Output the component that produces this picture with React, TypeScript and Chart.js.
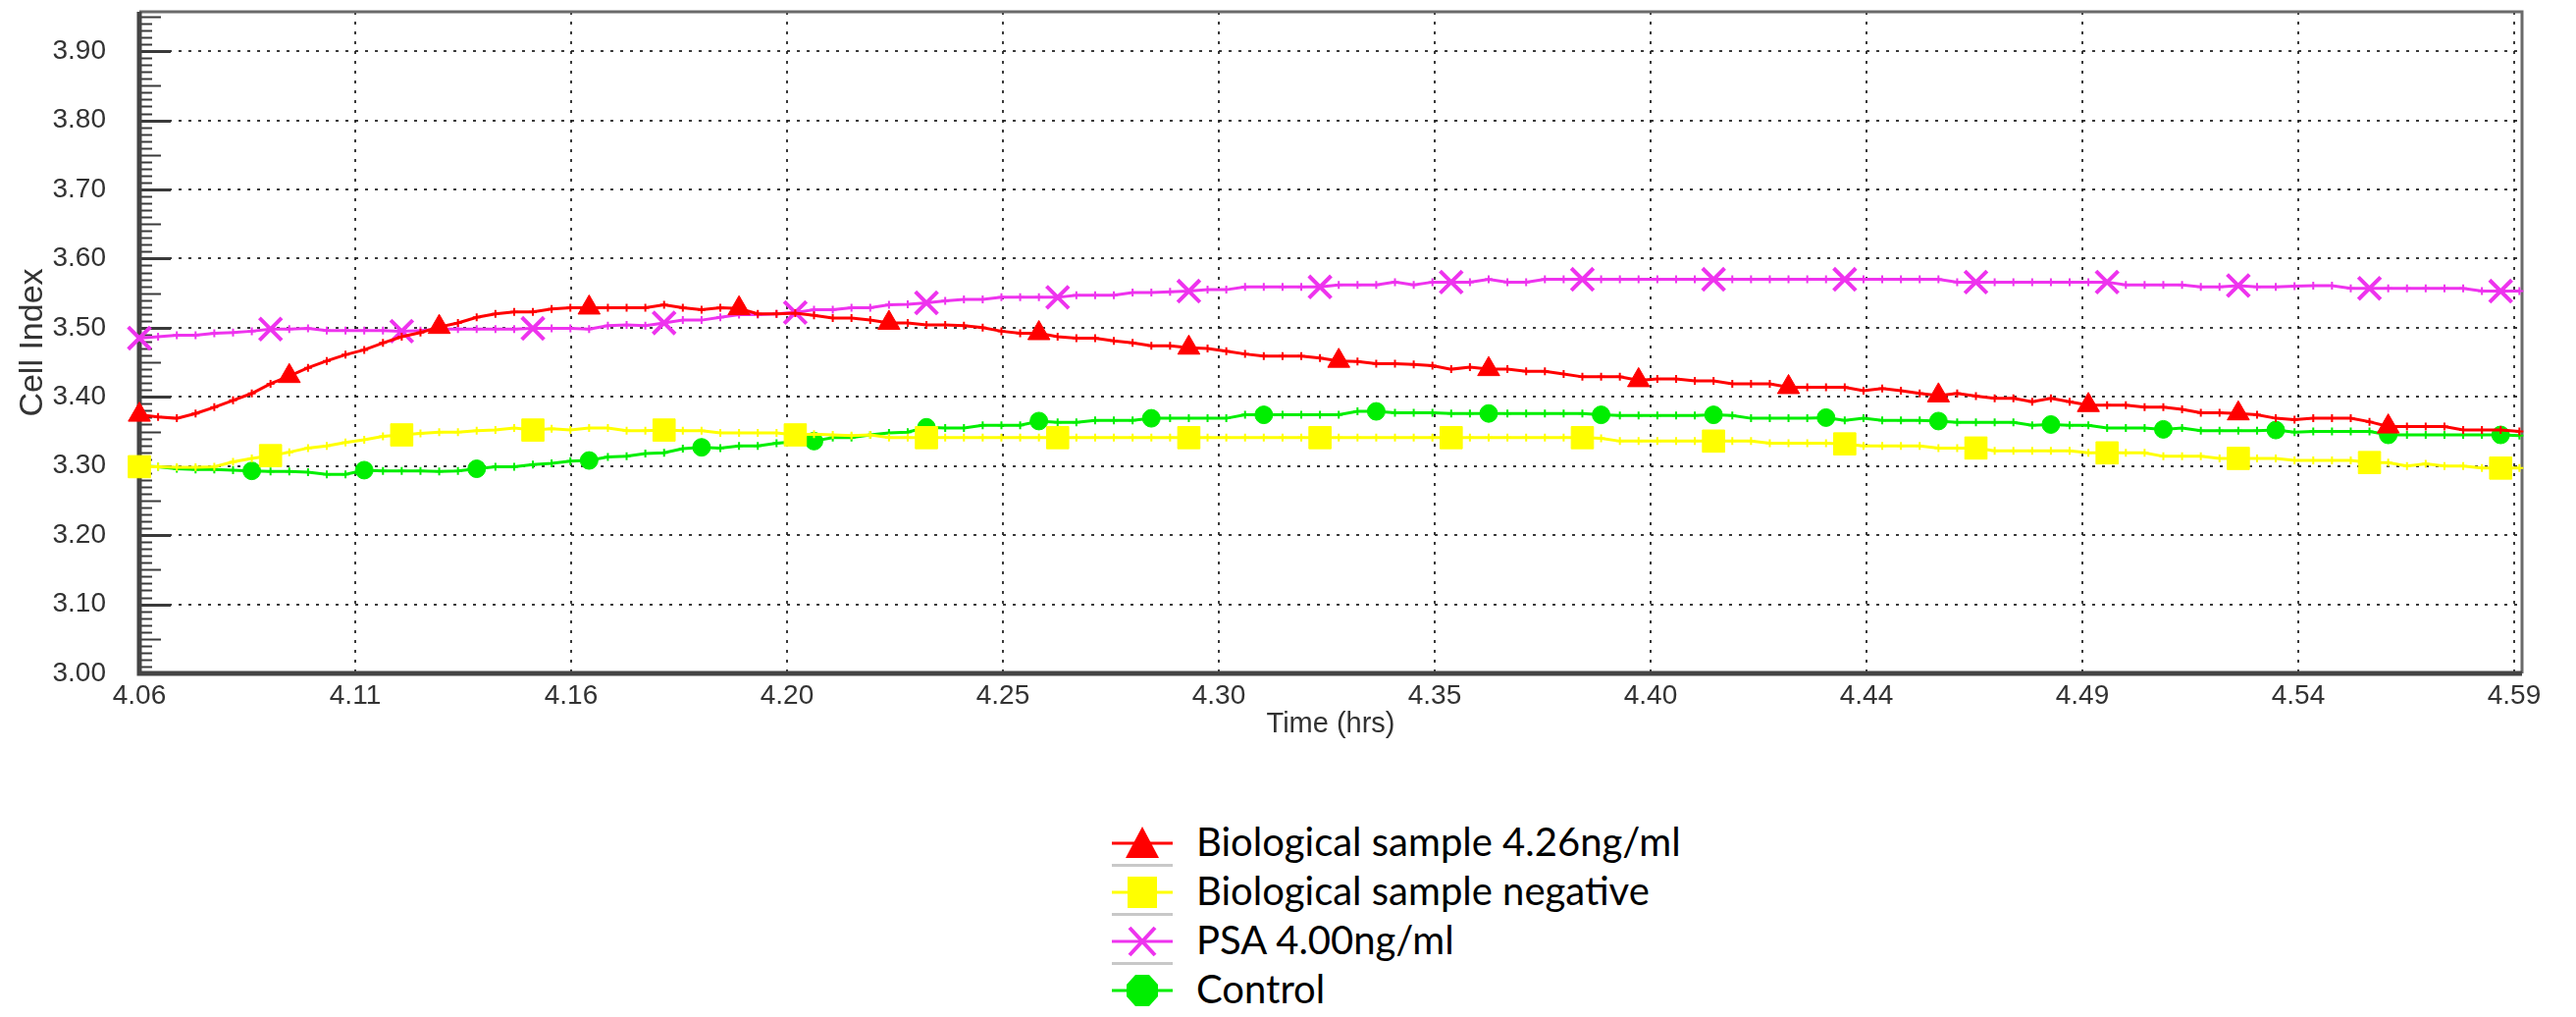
import React, { useEffect, useRef } from 'react';
import { Chart, registerables } from 'chart.js';

Chart.register(...registerables);

// ---- axis settings ----
const X_START = 4.0595; // hrs at the first sample (left edge of the plot)
const X_END = 4.5898; // hrs at the right edge of the plot
const SAMPLE_STEP = 0.004171; // hrs between two recorded samples
const X_TICK_STEP = 0.04805; // hrs between two labelled grid lines
const xTickLabels = ['4.06', '4.11', '4.16', '4.20', '4.25', '4.30', '4.35', '4.40', '4.44', '4.49', '4.54', '4.59'];
const yTickLabels = ['3.00', '3.10', '3.20', '3.30', '3.40', '3.50', '3.60', '3.70', '3.80', '3.90'];
const Y_MIN = 3.0;
const Y_MAX = 3.957;
const Y_MINOR_STEP = 0.01;

// ---- series (Cell Index per sample) ----
const bio426 = [
  3.374, 3.371, 3.369, 3.376, 3.385, 3.395, 3.405, 3.419, 3.430, 3.442,
  3.452, 3.461, 3.468, 3.478, 3.487, 3.493, 3.501, 3.507, 3.515, 3.520,
  3.523, 3.523, 3.527, 3.529, 3.529, 3.529, 3.529, 3.529, 3.533, 3.529,
  3.526, 3.529, 3.528, 3.520, 3.520, 3.521, 3.518, 3.514, 3.514, 3.511,
  3.507, 3.507, 3.504, 3.504, 3.503, 3.500, 3.495, 3.492, 3.492, 3.487,
  3.485, 3.485, 3.481, 3.478, 3.474, 3.474, 3.471, 3.470, 3.466, 3.462,
  3.459, 3.459, 3.459, 3.456, 3.452, 3.451, 3.448, 3.448, 3.447, 3.445,
  3.440, 3.443, 3.440, 3.440, 3.437, 3.437, 3.433, 3.429, 3.429, 3.429,
  3.424, 3.426, 3.426, 3.423, 3.423, 3.419, 3.419, 3.419, 3.414, 3.414,
  3.414, 3.414, 3.409, 3.412, 3.409, 3.405, 3.402, 3.405, 3.401, 3.398,
  3.398, 3.393, 3.398, 3.393, 3.388, 3.388, 3.388, 3.385, 3.385, 3.382,
  3.377, 3.377, 3.376, 3.374, 3.369, 3.367, 3.369, 3.369, 3.369, 3.364,
  3.357, 3.357, 3.357, 3.357, 3.352, 3.352, 3.352, 3.350,
];

const bioNegative = [
  3.299, 3.299, 3.298, 3.298, 3.299, 3.306, 3.311, 3.315, 3.320, 3.326,
  3.329, 3.334, 3.338, 3.343, 3.345, 3.347, 3.349, 3.349, 3.351, 3.352,
  3.355, 3.352, 3.354, 3.352, 3.355, 3.355, 3.351, 3.351, 3.352, 3.351,
  3.351, 3.348, 3.348, 3.348, 3.348, 3.345, 3.346, 3.345, 3.344, 3.345,
  3.341, 3.341, 3.341, 3.341, 3.341, 3.341, 3.341, 3.341, 3.341, 3.341,
  3.341, 3.341, 3.341, 3.341, 3.341, 3.341, 3.341, 3.341, 3.341, 3.341,
  3.341, 3.341, 3.341, 3.341, 3.341, 3.341, 3.341, 3.341, 3.341, 3.341,
  3.341, 3.341, 3.341, 3.341, 3.341, 3.341, 3.341, 3.341, 3.340, 3.336,
  3.336, 3.336, 3.336, 3.336, 3.336, 3.336, 3.336, 3.333, 3.333, 3.333,
  3.333, 3.332, 3.329, 3.329, 3.329, 3.329, 3.326, 3.326, 3.326, 3.322,
  3.322, 3.322, 3.322, 3.322, 3.319, 3.319, 3.319, 3.319, 3.314, 3.314,
  3.314, 3.311, 3.311, 3.311, 3.311, 3.308, 3.308, 3.308, 3.308, 3.305,
  3.305, 3.300, 3.303, 3.300, 3.300, 3.297, 3.297, 3.297,
];

const psa400 = [
  3.485, 3.487, 3.489, 3.489, 3.492, 3.493, 3.495, 3.498, 3.498, 3.499,
  3.496, 3.496, 3.496, 3.496, 3.495, 3.496, 3.498, 3.498, 3.498, 3.498,
  3.498, 3.499, 3.499, 3.499, 3.498, 3.503, 3.504, 3.503, 3.507, 3.511,
  3.511, 3.515, 3.519, 3.519, 3.520, 3.522, 3.526, 3.526, 3.529, 3.529,
  3.533, 3.534, 3.536, 3.539, 3.541, 3.541, 3.544, 3.544, 3.544, 3.544,
  3.547, 3.547, 3.547, 3.551, 3.551, 3.552, 3.553, 3.555, 3.555, 3.559,
  3.559, 3.559, 3.559, 3.559, 3.562, 3.562, 3.562, 3.566, 3.562, 3.566,
  3.566, 3.566, 3.570, 3.566, 3.566, 3.570, 3.570, 3.570, 3.570, 3.570,
  3.570, 3.570, 3.570, 3.570, 3.570, 3.570, 3.570, 3.570, 3.570, 3.570,
  3.570, 3.570, 3.570, 3.570, 3.570, 3.570, 3.570, 3.566, 3.566, 3.566,
  3.566, 3.566, 3.566, 3.566, 3.566, 3.566, 3.562, 3.562, 3.562, 3.562,
  3.559, 3.559, 3.561, 3.559, 3.559, 3.560, 3.561, 3.561, 3.557, 3.557,
  3.557, 3.557, 3.557, 3.557, 3.557, 3.553, 3.553, 3.553,
];

const control = [
  3.300, 3.299, 3.296, 3.295, 3.295, 3.294, 3.293, 3.292, 3.292, 3.291,
  3.288, 3.288, 3.294, 3.293, 3.293, 3.293, 3.292, 3.293, 3.296, 3.299,
  3.299, 3.302, 3.304, 3.307, 3.308, 3.313, 3.314, 3.318, 3.319, 3.325,
  3.327, 3.326, 3.329, 3.329, 3.333, 3.335, 3.336, 3.341, 3.341, 3.345,
  3.348, 3.349, 3.356, 3.355, 3.355, 3.359, 3.359, 3.359, 3.365, 3.363,
  3.363, 3.366, 3.366, 3.366, 3.369, 3.369, 3.369, 3.369, 3.369, 3.374,
  3.374, 3.374, 3.374, 3.374, 3.374, 3.379, 3.379, 3.377, 3.377, 3.377,
  3.376, 3.376, 3.376, 3.376, 3.376, 3.376, 3.376, 3.376, 3.374, 3.373,
  3.373, 3.373, 3.373, 3.373, 3.374, 3.373, 3.369, 3.369, 3.369, 3.369,
  3.370, 3.366, 3.369, 3.366, 3.366, 3.366, 3.365, 3.363, 3.363, 3.363,
  3.363, 3.359, 3.360, 3.359, 3.359, 3.355, 3.355, 3.355, 3.353, 3.355,
  3.351, 3.351, 3.351, 3.351, 3.352, 3.349, 3.350, 3.350, 3.350, 3.350,
  3.345, 3.345, 3.345, 3.345, 3.345, 3.345, 3.345, 3.344,
];

const seriesLabels = ['Biological sample 4.26ng/ml', 'Biological sample negative', 'PSA 4.00ng/ml', 'Control'];

const RED = '#ff0000';
const YELLOW = '#ffff00';
const MAGENTA = '#ee33ee';
const GREEN = '#00ee00';

const TICK_FONT = '"Liberation Sans", Arial, sans-serif';

function makeDataset(label: string, values: number[], color: string, every: number, style: string, bigR: number, bigBW: number) {
  return {
    label,
    data: values.map((y, k) => ({ x: X_START + k * SAMPLE_STEP, y })),
    borderColor: color,
    backgroundColor: color,
    borderWidth: 3,
    tension: 0,
    clip: false as any,
    pointStyle: (c: any) => (c.dataIndex % every === 0 ? style : 'cross'),
    pointRadius: (c: any) => (c.dataIndex % every === 0 ? bigR : 4),
    pointBorderWidth: (c: any) => (c.dataIndex % every === 0 ? bigBW : 2),
    pointBackgroundColor: color,
    pointBorderColor: color,
    pointHoverRadius: 0,
  };
}

const framePlugin = {
  id: 'frame',
  beforeDatasetsDraw(chart: any) {
    const { ctx, chartArea } = chart;
    const { left, right, top, bottom } = chartArea;
    const y = chart.scales.y;
    ctx.save();
    ctx.strokeStyle = '#3a3a3a';
    const n = Math.floor((Y_MAX - Y_MIN) / Y_MINOR_STEP + 1e-6);
    for (let i = 0; i <= n; i++) {
      const py = Math.round(y.getPixelForValue(Y_MIN + i * Y_MINOR_STEP)) + 0.5;
      const major = i % 10 === 0;
      const len = major ? 32 : i % 5 === 0 ? 22 : 13;
      ctx.lineWidth = major ? 3 : 2;
      ctx.beginPath();
      ctx.moveTo(left, py);
      ctx.lineTo(left + len, py);
      ctx.stroke();
    }
    ctx.strokeStyle = '#6a6a6a';
    ctx.lineWidth = 3;
    ctx.beginPath();
    ctx.moveTo(left, top);
    ctx.lineTo(right, top);
    ctx.lineTo(right, bottom);
    ctx.stroke();
    ctx.strokeStyle = '#444444';
    ctx.lineWidth = 5;
    ctx.beginPath();
    ctx.moveTo(left, top);
    ctx.lineTo(left, bottom);
    ctx.lineTo(right, bottom);
    ctx.stroke();
    ctx.restore();
  },
};

function LegendMarker({ kind, color }: { kind: string; color: string }) {
  const cx = 31;
  const cy = 25;
  let marker: React.ReactNode = null;
  if (kind === 'triangle') {
    marker = <polygon points={`${cx},${cy - 17} ${cx + 17},${cy + 15} ${cx - 17},${cy + 15}`} fill={color} />;
  } else if (kind === 'rect') {
    marker = <rect x={cx - 15} y={cy - 16} width={30} height={32} fill={color} />;
  } else if (kind === 'crossRot') {
    marker = (
      <g stroke={color} strokeWidth={4}>
        <line x1={cx - 13} y1={cy - 14} x2={cx + 13} y2={cy + 14} />
        <line x1={cx + 13} y1={cy - 14} x2={cx - 13} y2={cy + 14} />
      </g>
    );
  } else {
    marker = <polygon points={`${cx - 7},${cy - 16} ${cx + 7},${cy - 16} ${cx + 16},${cy - 6} ${cx + 16},${cy + 6} ${cx + 7},${cy + 16} ${cx - 7},${cy + 16} ${cx - 16},${cy + 6} ${cx - 16},${cy - 6}`} fill={color} />;
  }
  return (
    <svg width={62} height={50} style={{ display: 'block' }}>
      <line x1={0} y1={cy} x2={62} y2={cy} stroke={color} strokeWidth={3} />
      {marker}
      <rect x={0} y={46} width={62} height={3} fill="#c8c8c8" />
    </svg>
  );
}

export default function App() {
  const ref = useRef<HTMLCanvasElement>(null);

  useEffect(() => {
    const canvas = ref.current;
    if (!canvas) return;
    const chart = new Chart(canvas, {
      type: 'line',
      data: {
        datasets: [
          makeDataset(seriesLabels[0], bio426, RED, 8, 'triangle', 13, 1),
          makeDataset(seriesLabels[1], bioNegative, YELLOW, 7, 'rect', 16, 1),
          makeDataset(seriesLabels[2], psa400, MAGENTA, 7, 'crossRot', 16, 4),
          makeDataset(seriesLabels[3], control, GREEN, 6, 'circle', 9, 1),
        ] as any,
      },
      plugins: [framePlugin],
      options: {
        animation: false,
        responsive: false,
        devicePixelRatio: 1,
        layout: { autoPadding: false, padding: { left: 0, top: 4, right: 47, bottom: 0 } },
        plugins: { legend: { display: false }, tooltip: { enabled: false } },
        events: [],
        scales: {
          x: {
            type: 'linear',
            bounds: 'data',
            min: X_START,
            max: X_END,
            afterFit: (s: any) => {
              s.height = 82;
              s.paddingLeft = 0;
              s.paddingRight = 0;
            },
            afterBuildTicks: (s: any) => {
              s.ticks = xTickLabels.map((_, i) => ({ value: X_START + i * X_TICK_STEP }));
              s.min = X_START;
              s.max = X_END;
            },
            ticks: {
              autoSkip: false,
              maxRotation: 0,
              padding: 6,
              color: '#333',
              font: { family: TICK_FONT, size: 28 },
              callback: (_v: any, i: number) => xTickLabels[i],
            },
            grid: { color: 'rgba(25,25,25,0.85)', lineWidth: 2, drawTicks: false },
            border: { display: false, dash: [3, 7] },
            title: {
              display: true,
              text: 'Time (hrs)',
              color: '#333',
              font: { family: TICK_FONT, size: 29 },
              padding: { top: 0, bottom: 13 },
            },
          },
          y: {
            type: 'linear',
            bounds: 'data',
            min: Y_MIN,
            max: Y_MAX,
            afterFit: (s: any) => {
              s.width = 134;
              s.paddingTop = 0;
              s.paddingBottom = 0;
            },
            afterBuildTicks: (s: any) => {
              s.ticks = yTickLabels.map((t) => ({ value: parseFloat(t) }));
              s.min = Y_MIN;
              s.max = Y_MAX;
            },
            ticks: {
              padding: 34,
              color: '#333',
              font: { family: TICK_FONT, size: 28 },
              callback: (_v: any, i: number) => yTickLabels[i],
            },
            grid: { color: 'rgba(25,25,25,0.85)', lineWidth: 2, drawTicks: false },
            border: { display: false, dash: [3, 7] },
            title: {
              display: true,
              text: 'Cell Index',
              color: '#333',
              font: { family: TICK_FONT, size: 34 },
              padding: { top: 5, bottom: 0 },
            },
          },
        },
      } as any,
    });
    return () => chart.destroy();
  }, []);

  const legendItems = [
    { kind: 'triangle', color: RED },
    { kind: 'rect', color: YELLOW },
    { kind: 'crossRot', color: MAGENTA },
    { kind: 'circle', color: GREEN },
  ];

  return (
    <div style={{ position: 'relative', width: 2609, height: 1020 }}>
      <canvas ref={ref} width={2609} height={760} style={{ display: 'block', width: 2609, height: 760 }} />
      <div style={{ position: 'absolute', left: 1125, top: 826 }}>
        {legendItems.map((it, i) => (
          <div key={i} style={{ display: 'flex', alignItems: 'center', height: 50 }}>
            <LegendMarker kind={it.kind} color={it.color} />
            <span
              style={{
                marginLeft: 24,
                fontFamily: 'Lato, "Open Sans", sans-serif',
                fontSize: 40,
                lineHeight: '50px',
                color: '#000',
                whiteSpace: 'nowrap',
                position: 'relative',
                top: -2,
              }}
            >
              {seriesLabels[i]}
            </span>
          </div>
        ))}
      </div>
    </div>
  );
}
